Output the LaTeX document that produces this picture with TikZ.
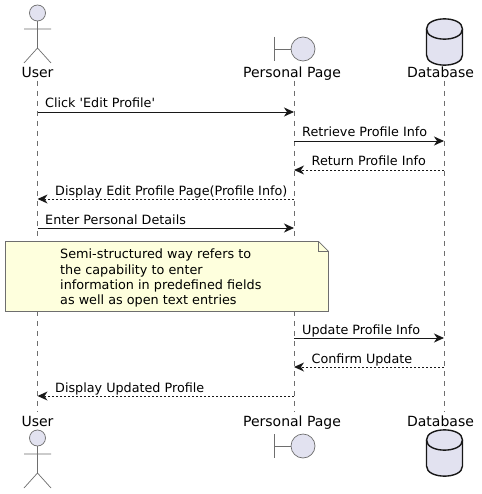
\documentclass[tikz,border=0pt]{standalone}
\usepackage{fontspec}
\setmainfont{DejaVu Sans}
\newfontfamily\plainface{DejaVu Sans}
\usetikzlibrary{arrows.meta}
\definecolor{partfill}{HTML}{E2E2F0}
\definecolor{notefill}{HTML}{FEFFDD}
\definecolor{ink}{HTML}{181818}
\definecolor{soft}{HTML}{6E6E6E}
\tikzset{
  x=1pt,y=-1pt,
  life/.style={draw=soft,line width=0.5pt,dash pattern=on 5pt off 5pt},
  msg/.style={draw=ink,line width=0.9pt,-{Stealth[length=10pt,width=9pt,inset=3pt]}},
  ret/.style={draw=ink,line width=0.8pt,dash pattern=on 2pt off 2pt,-{Stealth[length=10pt,width=9pt,inset=3pt,line width=0pt]}},
  lbl/.style={font=\plainface\fontsize{12.75}{13}\selectfont,text=black,inner sep=0pt,anchor=base west},
  part/.style={font=\plainface\fontsize{14}{14}\selectfont,text=black,inner sep=0pt,anchor=base},
  fig/.style={draw=soft,line width=0.7pt},
  figfill/.style={fig,fill=partfill},
  dbshape/.style={draw=ink,line width=1.4pt,fill=partfill},
  notebox/.style={draw=soft,line width=0.7pt,fill=notefill},
  notetext/.style={font=\plainface\fontsize{12.8}{15.1}\selectfont,text=black,inner sep=0pt,anchor=north west,align=left}
}
\begin{document}
\begin{tikzpicture}
\useasboundingbox (0,0) rectangle (481,494);
\fill[white] (0,0) rectangle (481,494);
% lifeline ends
\coordinate (uT) at (37.5,81); \coordinate (uB) at (37.5,412);
\coordinate (pT) at (294,81);  \coordinate (pB) at (294,412);
\coordinate (dT) at (444,81);  \coordinate (dB) at (444,412);
\draw[life] (uT) -- (uB);
\draw[life] (pT) -- (pB);
\draw[life] (dT) -- (dB);
% participant labels
\node[part] (userTop) at (37.5,78) {User};
\node[part] (pageTop) at (292,78) {Personal Page};
\node[part] (dbTop) at (440.5,78) {Database};
\node[part] (userBot) at (37.5,426) {User};
\node[part] (pageBot) at (292,426) {Personal Page};
\node[part] (dbBot) at (440.5,426) {Database};
% actors
\foreach \o in {0,425}{
\begin{scope}[shift={(0,\o)}]
  \draw[figfill] (37.5,13) circle[radius=8];
  \draw[fig] (37.5,21) -- (37.5,48) (24,29) -- (51,29) (24,63) -- (37.5,48) -- (51,63);
\end{scope}}
% boundaries
\foreach \o in {0,397}{
\begin{scope}[shift={(0,\o)}]
  \draw[fig] (274.5,37) -- (274.5,61) (274.5,49) -- (291,49);
  \draw[figfill] (303,49) circle[radius=12];
\end{scope}}
% databases
\foreach \o in {0,411}{
\begin{scope}[shift={(0,\o)}]
  \draw[dbshape] (426.5,29) .. controls (426.5,15.5) and (462.5,15.5) .. (462.5,29)
     -- (462.5,55) .. controls (462.5,68.5) and (426.5,68.5) .. (426.5,55) -- cycle;
  \draw[dbshape,fill=none] (426.5,29) .. controls (426.5,42.5) and (462.5,42.5) .. (462.5,29);
\end{scope}}
% messages
\coordinate (u1) at (37.5,112); \coordinate (p1) at (294,112);
\coordinate (p2) at (294,141);  \coordinate (d2) at (444,141);
\coordinate (d3) at (444,170);  \coordinate (p3) at (294,170);
\coordinate (p4) at (294,199);  \coordinate (u4) at (37.5,199);
\coordinate (u5) at (37.5,228); \coordinate (p5) at (294,228);
\coordinate (p6) at (294,338);  \coordinate (d6) at (444,338);
\coordinate (d7) at (444,367);  \coordinate (p7) at (294,367);
\coordinate (p8) at (294,396);  \coordinate (u8) at (37.5,396);
\draw[msg] (u1) -- (p1);
\draw[msg] (p2) -- (d2);
\draw[ret] (d3) -- (p3);
\draw[ret] (p4) -- (u4);
\draw[msg] (u5) -- (p5);
\draw[msg] (p6) -- (d6);
\draw[ret] (d7) -- (p7);
\draw[ret] (p8) -- (u8);
\node[lbl] (m1) at (45,107.5) {Click 'Edit Profile'};
\node[lbl] (m2) at (302,136.5) {Retrieve Profile Info};
\node[lbl] (m3) at (311.5,166) {Return Profile Info};
\node[lbl] (m4) at (55,195) {Display Edit Profile Page(Profile Info)};
\node[lbl] (m5) at (45,224) {Enter Personal Details};
\node[lbl] (m6) at (302,334) {Update Profile Info};
\node[lbl] (m7) at (311.5,363) {Confirm Update};
\node[lbl] (m8) at (55,392) {Display Updated Profile};
% note
\draw[notebox] (5.5,241.5) -- (318.5,241.5) -- (328.5,251.5) -- (328.5,311.5) -- (5.5,311.5) -- cycle;
\draw[notebox,fill=none] (318.5,241.5) -- (318.5,251.5) -- (328.5,251.5);
\node[notetext] (note) at (60,249) {Semi-structured way refers to\\the capability to enter\\information in predefined fields\\as well as open text entries};
\end{tikzpicture}
\end{document}
